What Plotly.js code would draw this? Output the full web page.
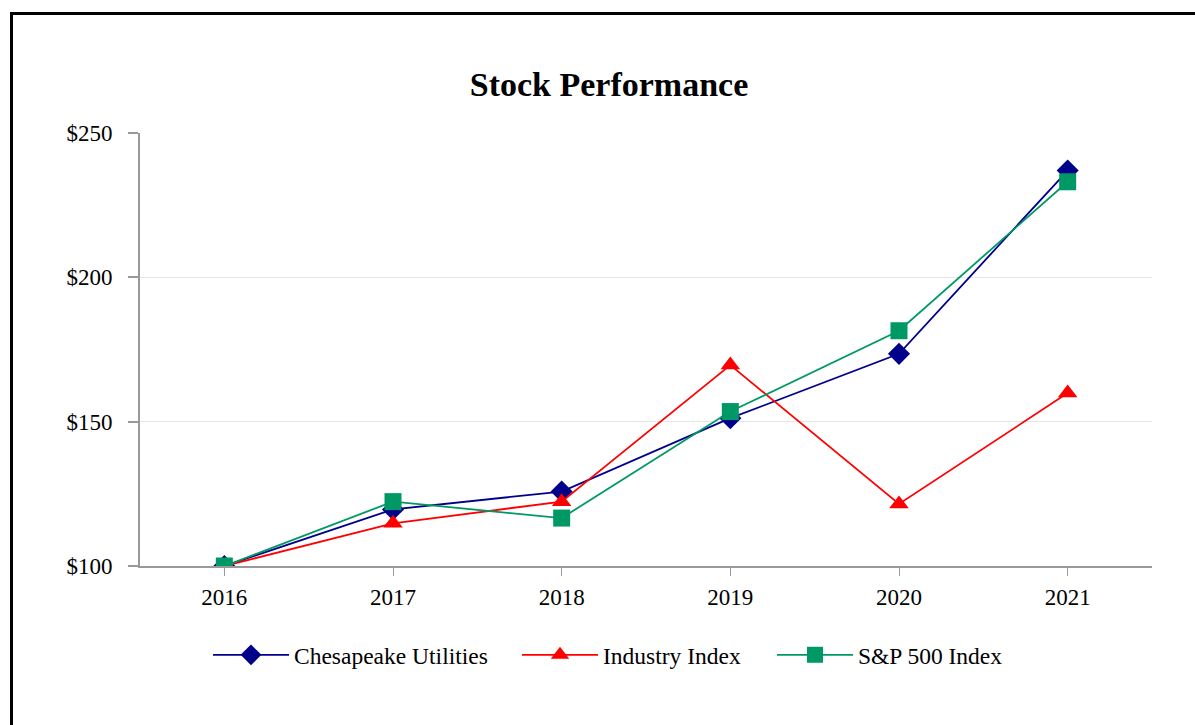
<!DOCTYPE html>
<html>
<head>
<meta charset="utf-8">
<script src="https://cdn.plot.ly/plotly-3.0.1.min.js"></script>
<style>
  html, body { margin: 0; padding: 0; background: #fff; }
  #chart { width: 1195px; height: 725px; }
  #frame { position: absolute; left: 10px; top: 12px; width: 1400px; height: 1000px;
           border: 3px solid #000; pointer-events: none; z-index: 10; }
</style>
</head>
<body>
<div id="frame"></div>
<div id="chart"></div>
<script>
const years = ['2016', '2017', '2018', '2019', '2020', '2021'];
const chesapeake = [100, 119.6, 125.8, 151.2, 173.5, 237.0];
const industry   = [100, 114.8, 122.3, 169.6, 121.5, 159.9];
const sp500      = [100, 122.3, 116.6, 153.5, 181.5, 233.1];
const yTicks = [100, 150, 200, 250];
const yTickText = yTicks.map(v => '$' + v);

const serif = 'Liberation Serif, Times New Roman, serif';

const traces = [
  { x: years, y: chesapeake, name: 'Chesapeake Utilities', type: 'scatter', mode: 'lines+markers', legend: 'legend',
    line: { color: '#00008B', width: 1.8 }, marker: { symbol: 'diamond', size: 17, color: '#00008B' } },
  { x: years, y: industry, name: 'Industry Index', type: 'scatter', mode: 'lines+markers', legend: 'legend2',
    line: { color: '#FF0000', width: 1.8 }, marker: { symbol: 'triangle-up', size: 17, color: '#FF0000' } },
  { x: years, y: sp500, name: 'S&P 500 Index', type: 'scatter', mode: 'lines+markers', legend: 'legend3',
    line: { color: '#009966', width: 1.8 }, marker: { symbol: 'square', size: 17, color: '#009966' } }
];

function leg(px) {
  return { orientation: 'h', x: px / 1195, xref: 'container', xanchor: 'left',
           y: 1 - 655 / 725, yref: 'container', yanchor: 'middle',
           font: { family: serif, size: 23.5, color: '#000' }, itemwidth: 76,
           bgcolor: 'rgba(0,0,0,0)', borderwidth: 0 };
}

const layout = {
  width: 1195, height: 725,
  margin: { l: 140, r: 43, t: 133, b: 159 },
  paper_bgcolor: '#fff', plot_bgcolor: '#fff',
  font: { family: serif, size: 23, color: '#000' },
  title: { text: '<b>Stock Performance</b>', font: { family: serif, size: 34, color: '#000' },
           x: 609 / 1195, xanchor: 'center', xref: 'container',
           y: 1 - 84 / 725, yanchor: 'middle', yref: 'container' },
  xaxis: { type: 'category', range: [-0.5, 5.5], showgrid: false, showline: true,
           linecolor: '#999', linewidth: 2, ticks: 'outside', ticklen: 8, tickcolor: '#999',
           tickwidth: 1, tickfont: { family: serif, size: 23, color: '#000' }, ticklabelstandoff: 1,
           zeroline: false, fixedrange: true },
  yaxis: { range: [100, 250], tickmode: 'array', tickvals: yTicks, ticktext: yTickText,
           showgrid: true, gridcolor: '#e6e6e6',
           gridwidth: 1.5, showline: true, linecolor: '#999', linewidth: 2, ticks: 'outside', ticklen: 10,
           tickcolor: '#999', tickwidth: 2, tickfont: { family: serif, size: 23, color: '#000' },
           ticklabelstandoff: 11, zeroline: false, fixedrange: true },
  showlegend: true,
  legend: leg(208),
  legend2: leg(517),
  legend3: leg(772)
};

Plotly.newPlot('chart', traces, layout, { displayModeBar: false, staticPlot: true });
</script>
</body>
</html>
